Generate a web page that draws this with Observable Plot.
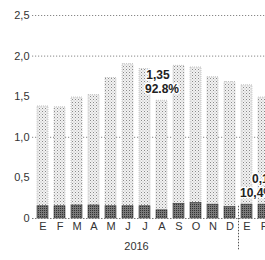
<!DOCTYPE html>
<html>
<head>
<meta charset="utf-8">
<script src="https://cdn.jsdelivr.net/npm/d3@7"></script>
<script src="https://cdn.jsdelivr.net/npm/@observablehq/plot@0.6"></script>
<style>
  html, body { margin: 0; padding: 0; background: white; overflow: hidden; }
</style>
</head>
<body>
<div id="chart"></div>
<script>
const monthKeys = ["E16","F16","M16","A16","My16","J16","Jl16","Ag16","S16","O16","N16","D16","E17","F17"];
const monthLabels = ["E","F","M","A","M","J","J","A","S","O","N","D","E","F"];
const darkValues  = [0.15,0.15,0.16,0.16,0.15,0.15,0.15,0.10,0.18,0.19,0.17,0.14,0.17,0.17];
const lightValues = [1.23,1.22,1.33,1.36,1.58,1.75,1.69,1.35,1.70,1.67,1.57,1.54,1.47,1.32];
const yTicks = [0, 0.5, 1, 1.5, 2, 2.5];
const gridValues = [1, 2, 2.5];
const yearLabel = "2016";
const noteTop = {key: "Ag16", value: "1,35", share: "92.8%"};
const noteBottom = {key: "E17", value: "0,17", share: "10,4%"};

const rows = monthKeys.map((k, i) => ({
  key: k, label: monthLabels[i], dark: darkValues[i], light: lightValues[i], total: darkValues[i] + lightValues[i]
}));
const labelOf = new Map(rows.map(d => [d.key, d.label]));
const rowOf = new Map(rows.map(d => [d.key, d]));
const fmt = d => d === 0 ? "0" : d.toFixed(1).replace(".", ",");

const svg = Plot.plot({
  width: 265,
  height: 260,
  marginLeft: 32,
  marginTop: 15,
  marginBottom: 42,
  marginRight: 0,
  style: {fontFamily: "'Liberation Sans', Arial, sans-serif", fontSize: "11px", color: "#333", background: "white"},
  x: {domain: monthKeys, range: [30, 275], padding: 0.38, axis: null, label: null},
  y: {domain: [0, 2.5], range: [218, 15], axis: null, label: null},
  marks: [
    Plot.ruleY(gridValues, {stroke: "#888", strokeDasharray: "1.2,1.8", strokeWidth: 1}),
    Plot.barY(rows, {x: "key", y1: "dark", y2: "total", fill: "url(#lightDots)", stroke: "#aaa", strokeWidth: 0.6, strokeDasharray: "1,1"}),
    Plot.barY(rows, {x: "key", y1: 0, y2: "dark", fill: "url(#darkDots)", stroke: "#333", strokeWidth: 0.6}),
    Plot.ruleY([0], {stroke: "#777", strokeDasharray: "1.5,1.5", strokeWidth: 1}),
    Plot.ruleX([noteBottom.key], {dx: -8.5, y1: 0.15, y2: -0.4, stroke: "#555", strokeDasharray: "1.5,1.5", strokeWidth: 1}),
    Plot.axisY(yTicks, {tickSize: 0, tickPadding: 3, tickFormat: fmt, fontSize: 11, fill: "#333", label: null}),
    Plot.axisX({tickSize: 0, tickPadding: 4, tickFormat: k => labelOf.get(k), fontSize: 11, fill: "#333", label: null}),
    Plot.text([yearLabel], {x: () => "Jl16", text: d => d, frameAnchor: "bottom", dx: -8.5, dy: 31, fontSize: 11, fill: "#333"}),
    Plot.text([noteTop], {x: "key", y: d => rowOf.get(d.key).total, text: "value", dx: -4, dy: -26, fontWeight: "bold", fontSize: 12, fill: "#222", stroke: "white", strokeWidth: 3}),
    Plot.text([noteTop], {x: "key", y: d => rowOf.get(d.key).total, text: "share", dx: 0, dy: -12, fontWeight: "bold", fontSize: 12, fill: "#222", stroke: "white", strokeWidth: 3}),
    Plot.text([noteBottom], {x: "key", y: d => rowOf.get(d.key).dark, text: "value", dx: 5, dy: -26, textAnchor: "start", fontWeight: "bold", fontSize: 12, fill: "#222", stroke: "white", strokeWidth: 3}),
    Plot.text([noteBottom], {x: "key", y: d => rowOf.get(d.key).dark, text: "share", dx: -7, dy: -12, textAnchor: "start", fontWeight: "bold", fontSize: 12, fill: "#222", stroke: "white", strokeWidth: 3})
  ]
});

svg.insertAdjacentHTML("afterbegin",
  `<defs>
    <pattern id="lightDots" width="3" height="3" patternUnits="userSpaceOnUse">
      <rect width="3" height="3" fill="#f2f2f2"></rect>
      <rect x="0" y="0" width="1" height="1" fill="#8a8a8a"></rect>
      <rect x="1.5" y="1.5" width="1" height="1" fill="#b5b5b5"></rect>
    </pattern>
    <pattern id="darkDots" width="2" height="2" patternUnits="userSpaceOnUse">
      <rect width="2" height="2" fill="#7a7a7a"></rect>
      <rect x="0" y="0" width="1" height="1" fill="#333333"></rect>
    </pattern>
  </defs>`);

document.getElementById("chart").appendChild(svg);
</script>
</body>
</html>
